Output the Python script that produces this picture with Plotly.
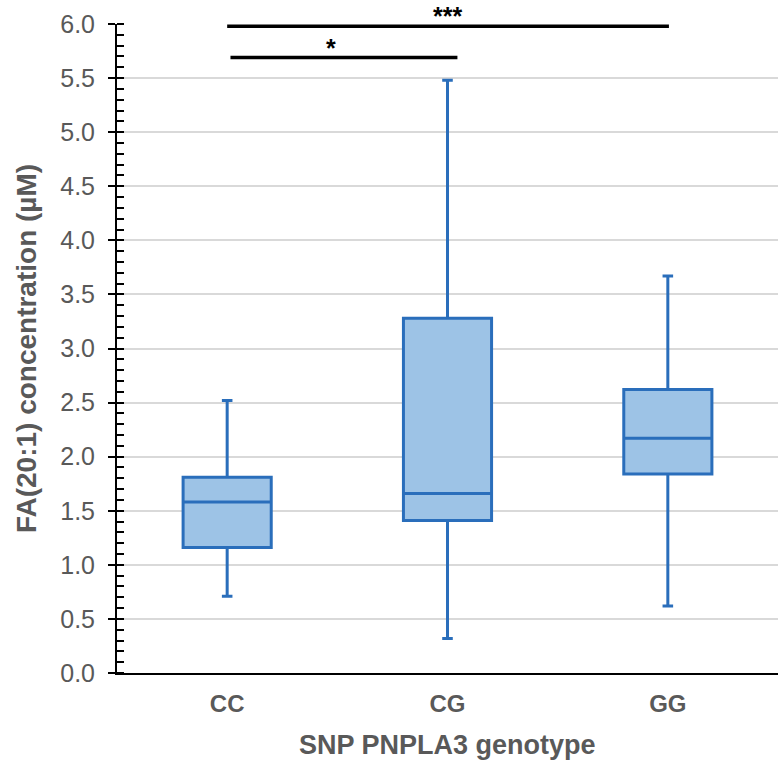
import plotly.graph_objects as go

categories = ["CC", "CG", "GG"]
upper_whisker = [2.52, 5.48, 3.67]
q3_values = [1.81, 3.28, 2.62]
median_values = [1.58, 1.66, 2.17]
q1_values = [1.16, 1.41, 1.84]
lower_whisker = [0.71, 0.32, 0.62]

y_tick_vals = [0.0, 0.5, 1.0, 1.5, 2.0, 2.5, 3.0, 3.5, 4.0, 4.5, 5.0, 5.5, 6.0]
y_tick_text = [f"{v:.1f}" for v in y_tick_vals]

sig_from = [0, 0]
sig_to = [1, 2]
sig_level = [5.69, 5.98]
sig_text = ["*", "***"]
sig_text_pos = [0.47, 1.0]

box_fill = "#9dc3e6"
box_line = "#2a6ebb"
grey = "#595959"
font_fam = "Liberation Sans, Arial, sans-serif"

fig = go.Figure()
fig.add_trace(go.Box(
    x=categories,
    q1=q1_values, median=median_values, q3=q3_values,
    lowerfence=lower_whisker, upperfence=upper_whisker,
    fillcolor=box_fill,
    line=dict(color=box_line, width=3),
    width=0.4,
    whiskerwidth=0.12,
    boxpoints=False,
    showlegend=False,
    hoverinfo="skip",
))
# invisible trace on overlay axis for crossing ticks
fig.add_trace(go.Scatter(x=[categories[0]], y=[0], yaxis="y2", mode="markers",
                         marker=dict(opacity=0), showlegend=False, hoverinfo="skip"))

for a, b, lvl, txt, tp in zip(sig_from, sig_to, sig_level, sig_text, sig_text_pos):
    off0 = 0.015 if b == 1 else 0.0
    off1 = 0.045 if b == 1 else 0.005
    fig.add_shape(type="line", xref="x", yref="y",
                  x0=a + off0, x1=b + off1, y0=lvl, y1=lvl,
                  line=dict(color="black", width=3.5))
    fig.add_annotation(x=tp, y=lvl, xref="x", yref="y", text=f"<b>{txt}</b>",
                       showarrow=False, yanchor="bottom", yshift=-6,
                       font=dict(size=25, color="black", family=font_fam))

fig.add_annotation(x=0.5, y=-0.1116, xref="paper", yref="paper",
                   text="<b>SNP PNPLA3 genotype</b>", showarrow=False,
                   xanchor="center", yanchor="middle",
                   font=dict(size=27, color=grey, family=font_fam))

fig.update_layout(
    width=778, height=768,
    margin=dict(l=117, r=0, t=24, b=95),
    plot_bgcolor="white", paper_bgcolor="white",
    font=dict(family=font_fam, color=grey),
    xaxis=dict(
        type="category", range=[-0.5, 2.5], automargin=False,
        showline=True, linecolor="black", linewidth=2,
        ticks="", showgrid=False,
        tickfont=dict(size=24, color=grey, family=font_fam),
        tickprefix="<b>", ticksuffix="</b>",
        ticklabelstandoff=8,
    ),
    yaxis=dict(
        range=[0, 6], tickvals=y_tick_vals, ticktext=y_tick_text, automargin=False,
        showline=True, linecolor="black", linewidth=2,
        ticks="outside", ticklen=7, tickwidth=2, tickcolor="black",
        showgrid=True, gridcolor="#d9d9d9", gridwidth=1.5,
        zeroline=False,
        tickfont=dict(size=25, color=grey, family=font_fam),
        ticklabelstandoff=8,
        minor=dict(dtick=0.1, ticks="inside", ticklen=7, tickwidth=1.5, tickcolor="black", showgrid=False),
        title=dict(text="<b>FA(20:1) concentration (µM)</b>", font=dict(size=28, color=grey)),
    ),
    yaxis2=dict(
        overlaying="y", side="left", range=[0, 6], tickvals=y_tick_vals, automargin=False,
        ticks="inside", ticklen=7, tickwidth=2, tickcolor="black",
        showticklabels=False, showgrid=False, showline=False, zeroline=False,
    ),
)

fig.write_html("out.html", config={"displayModeBar": False},
               post_script="document.body.style.margin='0';")
